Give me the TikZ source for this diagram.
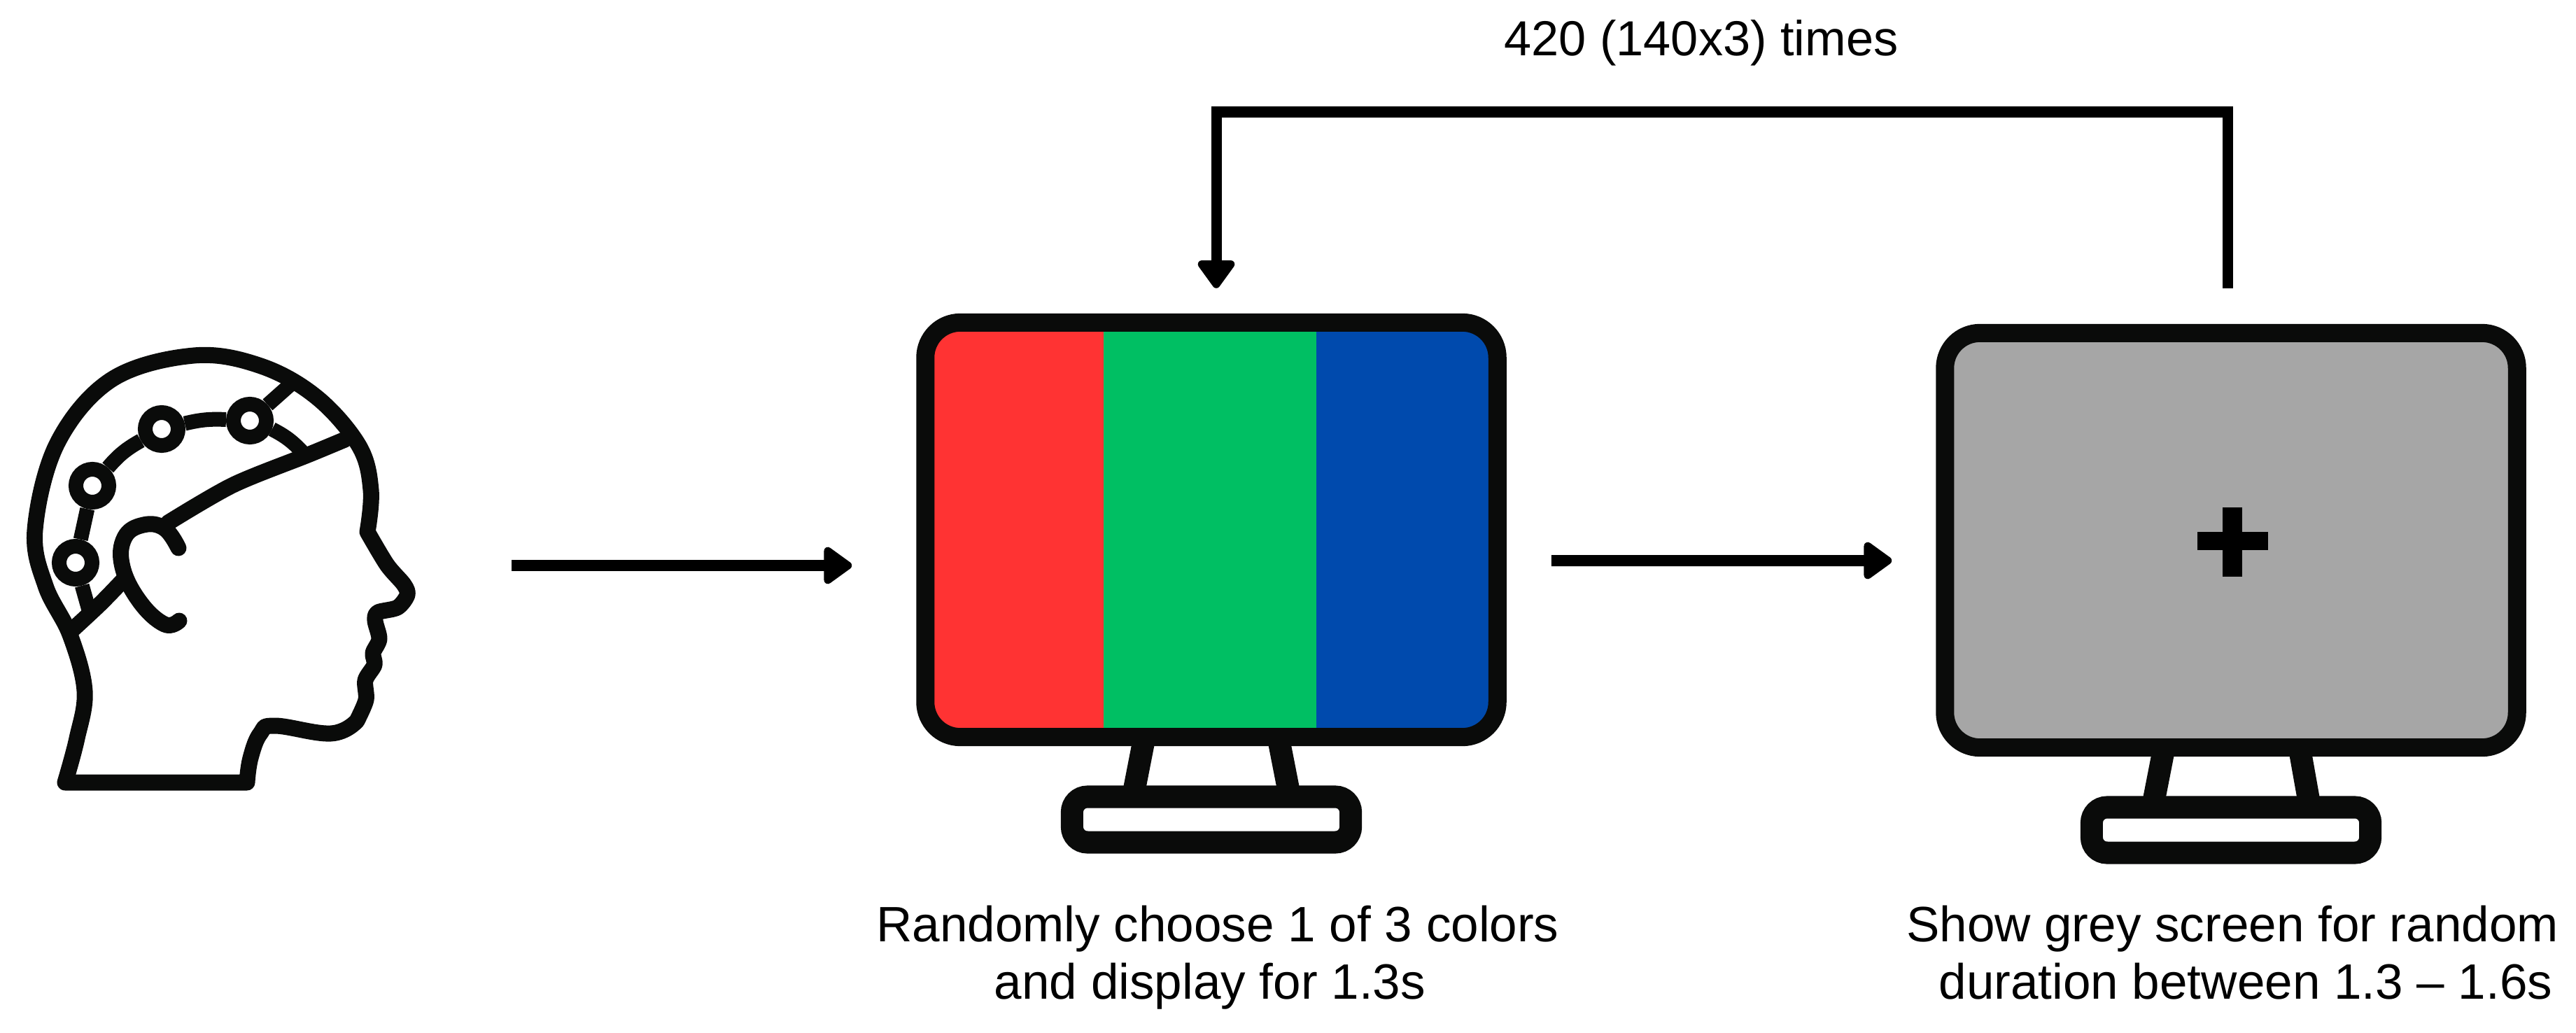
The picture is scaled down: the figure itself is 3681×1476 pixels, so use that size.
\documentclass[tikz,border=0pt]{standalone}
\usepackage{xcolor}
\usepackage{fontspec}
\setmainfont{Liberation Sans}
\usetikzlibrary{arrows.meta}
\definecolor{Ink}{HTML}{0A0B0A}
\definecolor{ScreenRed}{HTML}{FF3333}
\definecolor{ScreenGreen}{HTML}{00BF63}
\definecolor{ScreenBlue}{HTML}{004AAD}
\definecolor{ScreenGrey}{HTML}{A6A6A6}

\begin{document}
\begin{tikzpicture}[
    x=0.01cm, y=-0.01cm,
    screen/.style={draw=Ink, rounded corners=0.5cm, line width=0.26cm,
                   minimum width=8.17cm, minimum height=5.92cm, inner sep=0pt},
    base/.style={draw=Ink, rounded corners=0.22cm, line width=0.32cm,
                 minimum width=3.98cm, minimum height=0.65cm, inner sep=0pt},
    leg/.style={Ink, line width=0.32cm, shorten <=-0.1cm, shorten >=-0.1cm},
    arr/.style={-{Triangle[length=0.44cm, width=0.60cm, round, line width=0.12cm]},
                line width=0.16cm, black},
    loopline/.style={arr, line width=0.15cm},
    headline/.style={Ink, line width=0.23cm, line cap=round, line join=round},
    wire/.style={Ink, line width=0.21cm},
    electrode/.style={circle, draw=Ink, fill=white, line width=0.21cm,
                      minimum size=0.47cm, inner sep=0pt},
    lab/.style={align=center, font=\fontsize{20.2}{23.3}\selectfont, text=black, inner sep=0pt}
  ]
    \useasboundingbox (0,0) rectangle (3681,1476);

    % Head with electrodes
    \draw[headline] (353,1118) -- (93,1118) -- plot[smooth, tension=0.6] coordinates {
      (93,1118) (110,1055) (121,987) (100,907) (65,837) (50,757) (82,633) (160,542)
      (277,508) (373,523) (453,568) (513,637) (530,700) (525,760)}
      -- plot[smooth, tension=0.5] coordinates {
      (525,760) (553,807) (577,835) (582,850) (568,868) (540,875) (536,887) (542,913)
      (533,933) (535,950) (522,972) (523,1000) (510,1030)}
      -- plot[smooth, tension=0.7] coordinates {
      (510,1030) (473,1048) (393,1037) (372,1048) (358,1083) (353,1118)};
    % Ear and band
    \draw[headline] plot[smooth, tension=0.7] coordinates {
      (255,783) (235,755) (205,750) (178,768) (175,810) (200,860) (235,892) (256,887)};
    \draw[headline] plot[smooth, tension=0.5] coordinates {
      (240,747) (333,693) (440,650) (493,628)};
    \draw[headline] plot[smooth, tension=0.5] coordinates {(100,903) (143,863) (175,830)};

    \node[electrode] (elecA) at (357,601) {};
    \node[electrode] (elecB) at (231,613) {};
    \node[electrode] (elecC) at (132,694) {};
    \node[electrode] (elecD) at (108,804) {};
    \coordinate (wireTop) at (420,545);
    \coordinate (wireBand) at (433,647);
    \coordinate (wireLow) at (128,875);

    \draw[wire] (elecA) to[bend right=8] (elecB);
    \draw[wire] (elecB) to[bend right=10] (elecC);
    \draw[wire] (elecC) -- (elecD);
    \draw[wire] (elecD) -- (wireLow);
    \draw[wire] (elecA) -- (wireTop);
    \draw[wire] (elecA) to[bend left=10] (wireBand);
    \coordinate (headout) at (731,808);

    % Colour monitor
    \node[screen, path picture={
        \fill[ScreenRed, sharp corners] (path picture bounding box.north west) rectangle +(257,592);
        \fill[ScreenGreen, sharp corners] ([xshift=2.55cm]path picture bounding box.north west) rectangle +(305,592);
        \fill[ScreenBlue, sharp corners] ([xshift=5.58cm]path picture bounding box.north west) rectangle +(262,592);
      }] (colour) at (1731,757) {};
    \node[base] (colourbase) at (1731,1171) {};
    \draw[leg] ([xshift=-0.98cm]colour.south) -- ([xshift=-1.09cm]colourbase.north);
    \draw[leg] ([xshift=0.98cm]colour.south) -- ([xshift=1.09cm]colourbase.north);

    % Grey monitor
    \node[screen, fill=ScreenGrey] (grey) at (3188,772) {};
    \node[base] (greybase) at (3188,1186) {};
    \draw[leg] ([xshift=-0.98cm]grey.south) -- ([xshift=-1.09cm]greybase.north);
    \draw[leg] ([xshift=1.00cm]grey.south) -- ([xshift=1.10cm]greybase.north);
    \fill[black] (3140,760) rectangle (3241,786);
    \fill[black] (3176,725) rectangle (3204,824);

    % Arrows
    \draw[arr] (headout) -- ([xshift=-0.92cm]colour.west |- headout);
    \draw[arr] ([xshift=0.64cm, yshift=-0.44cm]colour.east) -- ([xshift=-0.63cm, yshift=-0.29cm]grey.west);

    % Loop back
    \coordinate (looptop) at (2400,160);
    \draw[loopline] ([xshift=-0.05cm, yshift=0.51cm]grey.north) |- (looptop) -| ([xshift=0.07cm, yshift=0.36cm]colour.north);

    % Labels
    \node[lab] (looplab) at (2431,61) {\fontsize{20}{23}\selectfont 420 (140x3) times};
    \node[lab, below=0pt] (colourlab) at (1740,1293) {Randomly choose 1 of 3 colors\\and display for 1.3s\hspace*{0.22cm}};
    \node[lab, below=0pt] (greylab) at (3190,1293) {Show grey screen for random\\\hspace*{0.38cm}duration between 1.3 -- 1.6s};
  \end{tikzpicture}
\end{document}
